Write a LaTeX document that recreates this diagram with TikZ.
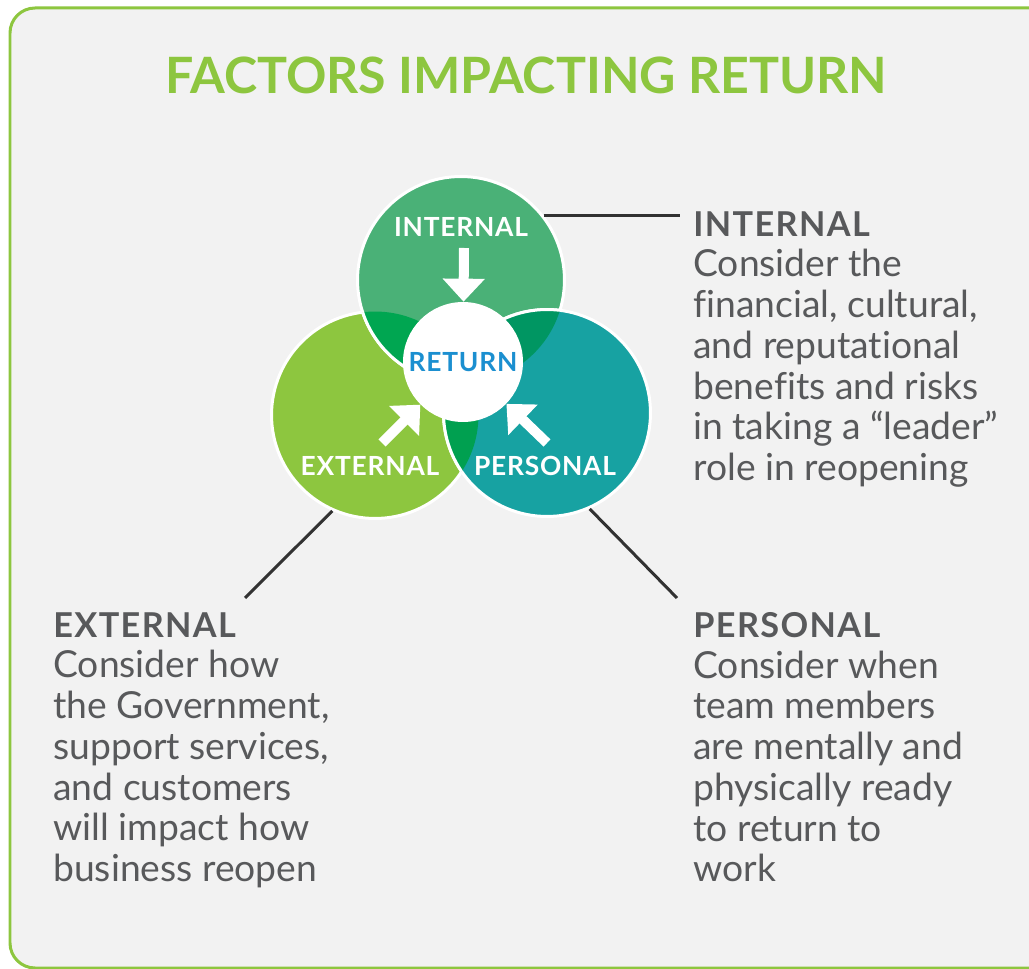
\documentclass[tikz,border=0pt]{standalone}
\usepackage{fontspec}
\setmainfont{Lato}[Ligatures=NoCommon]
\usetikzlibrary{arrows.meta}

\definecolor{limegreen}{RGB}{141,198,63}
\definecolor{intgreen}{RGB}{74,177,119}
\definecolor{perteal}{RGB}{23,162,162}
\definecolor{lensie}{RGB}{0,166,81}
\definecolor{lensip}{RGB}{0,150,98}
\definecolor{lensep}{RGB}{0,160,80}
\definecolor{retblue}{RGB}{27,143,208}
\definecolor{textgray}{RGB}{88,89,91}
\definecolor{leadgray}{RGB}{50,50,50}
\definecolor{panelgray}{RGB}{242,242,242}

\newcommand{\notehead}[1]{{\bfseries\fontsize{19.5}{23.2}\selectfont\addfontfeatures{LetterSpace=4}#1}}

\begin{document}
\begin{tikzpicture}[x=0.02cm,y=-0.02cm,
  factor/.style={circle,draw=white,line width=0.06cm,minimum size=4.14cm,inner sep=0pt},
  rim/.style={draw=white,line width=0.06cm},
  circlabel/.style={text=white,font=\fontsize{15}{17}\selectfont\bfseries\addfontfeatures{LetterSpace=3}},
  blockarrow/.style={white,line width=0.2cm,-{Triangle[length=0.46cm,width=0.82cm]}},
  leader/.style={leadgray,line width=0.06cm},
  note/.style={anchor=north west,inner sep=0pt,align=left,text=textgray,
    font=\fontsize{21.2}{23.2}\selectfont}]
  \useasboundingbox (0,0) rectangle (1029,969);
  \draw[limegreen,line width=0.06cm,fill=panelgray,rounded corners=0.5cm] (10,8) rectangle (1090,968);

  \node[text=limegreen,font=\fontsize{28.5}{34}\selectfont\bfseries] (title) at (526,75) {FACTORS IMPACTING RETURN};

  % the three factors
  \node[factor,fill=limegreen] (ext) at (375,415) {};
  \node[factor,fill=intgreen] (int) at (461,280) {};
  \node[factor,fill=perteal] (per) at (547,413) {};

  % overlaps
  \begin{scope}
    \clip (ext.center) circle (2.07cm);
    \fill[lensie] (int.center) circle (2.07cm);
    \path[rim] (int.center) circle (2.07cm);
  \end{scope}
  \begin{scope}
    \clip (int.center) circle (2.07cm);
    \fill[lensip] (per.center) circle (2.07cm);
    \path[rim] (per.center) circle (2.07cm);
  \end{scope}
  \begin{scope}
    \clip (ext.center) circle (2.07cm);
    \fill[lensep] (per.center) circle (2.07cm);
    \path[rim] (per.center) circle (2.07cm);
  \end{scope}

  \node[circle,fill=white,minimum size=2.4cm,inner sep=0pt,text=retblue,
    font=\fontsize{15}{17}\selectfont\bfseries\addfontfeatures{LetterSpace=3}] (ret) at (463,362) {RETURN};

  \node[circlabel] (intlabel) at (461,227) {INTERNAL};
  \node[circlabel] (extlabel) at (370,466) {EXTERNAL};
  \node[circlabel] (perlabel) at (545,466) {PERSONAL};

  \coordinate (intarr) at (464,248);
  \coordinate (extarr) at (382,443);
  \coordinate (perarr) at (547,443);
  \draw[blockarrow] (intarr) -- (ret);
  \draw[blockarrow] (extarr) -- (ret);
  \draw[blockarrow] (perarr) -- (ret);

  % descriptions
  \node[note] (intnote) at (693,211) {\notehead{INTERNAL}\\
    Consider the\\financial, cultural,\\and reputational\\benefits and risks\\
    in taking a “leader”\\role in reopening};
  \node[note] (extnote) at (53,612) {\notehead{EXTERNAL}\\
    Consider how\\the Government,\\support services,\\and customers\\
    will impact how\\business reopen};
  \node[note] (pernote) at (693,612) {\notehead{PERSONAL}\\
    Consider when\\team members\\are mentally and\\physically ready\\
    to return to\\work};

  \coordinate (extend) at (245,598);
  \coordinate (perend) at (677,598);
  \draw[leader,shorten >=0.26cm] (int.38) -- (int.38 -| intnote.west);
  \draw[leader] (ext.246) -- (extend);
  \draw[leader] (per.294) -- (perend);
\end{tikzpicture}
\end{document}
